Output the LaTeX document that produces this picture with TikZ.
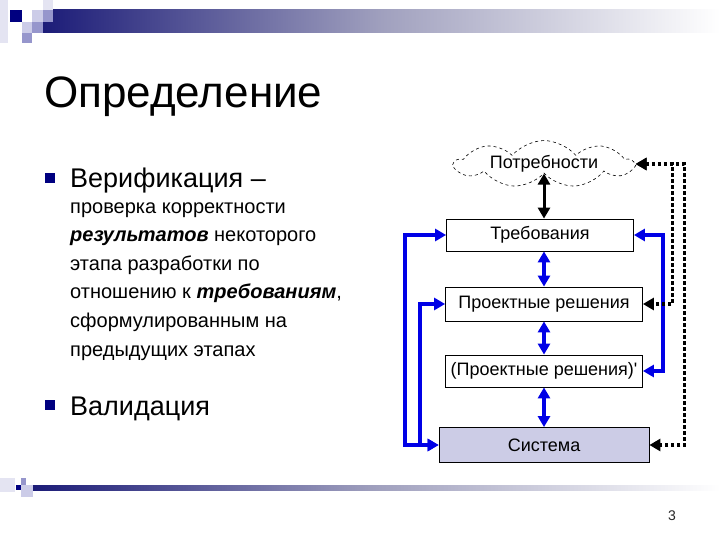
\documentclass[tikz,border=0pt]{standalone}
\usepackage{fontspec}
\setmainfont{Liberation Sans}
\usetikzlibrary{arrows.meta,shapes.symbols,calc}

\definecolor{navy}{RGB}{0,0,128}
\definecolor{barnavy}{RGB}{28,28,120}
\definecolor{barmid}{RGB}{160,160,190}
\definecolor{lavlight}{RGB}{204,204,232}
\definecolor{lavmid}{RGB}{150,150,204}
\definecolor{lavpale}{RGB}{228,228,242}
\definecolor{sysfill}{RGB}{204,204,230}
\definecolor{arrowblue}{RGB}{0,0,230}

\begin{document}
\begin{tikzpicture}[
  x=1pt, y=-1pt,
  font=\fontsize{18}{21}\selectfont,
  >={Triangle[length=11pt,width=12pt]},
  blk/.style={draw, line width=0.8pt, inner sep=0pt, minimum height=32pt},
  cloudbox/.style={cloud, cloud puffs=9, cloud puff arc=100, cloud ignores aspect, draw, dashed,
                   line width=0.6pt, minimum width=178pt, minimum height=38pt, inner sep=0pt},
  bflow/.style={<->, line width=4pt, draw=arrowblue},
  kflow/.style={<->, line width=3pt},
  dflow/.style={<->, line width=3.5pt, dash pattern=on 3.5pt off 2.5pt},
  bul/.style={fill=navy, minimum size=10pt, inner sep=0pt},
  big/.style={font=\fontsize{27}{30}\selectfont},
]
\useasboundingbox (0,0) rectangle (720,540);

% ---- slide decoration -------------------------------------------------------
\shade[left color=barnavy, right color=white, middle color=barmid] (43,10) rectangle (720,33);
\fill[lavpale] (0,0) rectangle (8,43);
\fill[navy] (10,10) rectangle (22,22);
\fill[lavlight] (32,10) rectangle (43,22);
\fill[lavpale] (43,0) rectangle (53,10);
\fill[lavmid] (43,10) rectangle (53,22);
\fill[lavlight] (22,22) rectangle (32,33);
\fill[lavmid] (32,22) rectangle (43,33);
\fill[lavmid] (22,33) rectangle (32,43);
\shade[left color=barnavy, right color=white, middle color=barmid] (33,485) rectangle (720,490);
\fill[lavpale] (0,478) rectangle (15,492);
\fill[lavmid] (21,478) rectangle (26,485);
\fill[lavlight] (21,485) rectangle (33,497);
\fill[navy] (16,485) rectangle (21,490);

% ---- title and bullets --------------------------------------------------------
\node[anchor=base west, font=\fontsize{44}{50}\selectfont, inner sep=0pt] (title) at (44,108) {Определение};
\node[bul] (b1) at (50,178) {};
\node[big, anchor=base west, inner sep=0pt] (ver) at (70,188) {Верификация –};
% multi-line node: its base is the last line
\node[anchor=base west, align=left, inner sep=0pt, font=\fontsize{20}{28.6}\selectfont] (def) at (70,356)
  {проверка корректности\\
   \textbf{\textit{результатов}} некоторого\\
   этапа разработки по\\
   отношению к \textbf{\textit{требованиям}},\\
   сформулированным на\\
   предыдущих этапах};
\node[bul] (b2) at (50,405) {};
\node[big, anchor=base west, inner sep=0pt] (val) at (70,415) {Валидация};

% ---- chain of artefacts ---------------------------------------------------------
\node[cloudbox] (need) at (544,164) {Потребности};
\node[blk, minimum width=187pt] (req) at (540,235) {Требования};
\node[blk, minimum width=197pt, minimum height=34pt] (pr) at (544,304) {Проектные решения};
\node[blk, minimum width=197pt] (pr2) at (544,371) {(Проектные решения)\textquotesingle};
\node[blk, minimum width=210pt, minimum height=35pt, fill=sysfill] (sys) at (544,445) {Система};

% ---- arrows ---------------------------------------------------------------------
\draw[kflow] (need.south) -- (need.south |- req.north);
\draw[bflow] (pr.north) -- (pr.north |- req.south);
\draw[bflow] (pr2.north) -- (pr.south);
\draw[bflow] (sys.north) -- (pr2.south);
% verification loops
\draw[bflow] (req.west) -- ++(-41,0) |- (sys.west);
\draw[bflow] (pr.west) -- ++(-25,0) |- (sys.west);
\draw[bflow] (req.east) -- ++(29,0) |- (pr2.east);
% validation loops
\draw[dflow] (need.east) -- ++(49,0) |- (sys.east);
\draw[dflow] (need.east) -- ++(37,0) |- (pr.east);

\node[font=\fontsize{14}{16}\selectfont, text=black!85] (pg) at (672,516) {3};
\end{tikzpicture}
\end{document}
